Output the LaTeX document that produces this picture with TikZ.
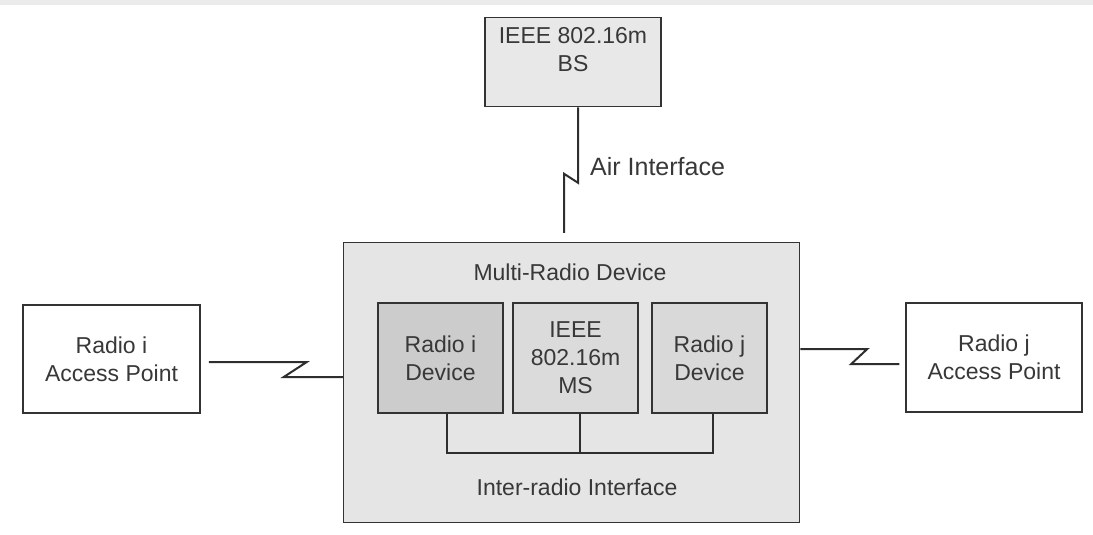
\documentclass[tikz,border=0pt]{standalone}
\usepackage{fontspec}
\setmainfont{Liberation Sans}
\begin{document}
\begin{tikzpicture}[x=1pt,y=-1pt,
  txt/.style={text=black!78, font=\fontsize{23}{28}\selectfont, align=center, inner sep=0pt},
  box/.style={draw=black!80, line width=1.5pt, inner sep=0pt, txt},
  wire/.style={draw=black!82, line width=2pt, line join=miter}
]
\useasboundingbox (0,0) rectangle (1093,535);
\fill[black!8] (0,0) rectangle (1093,5);
% outer boxes
\node[box, fill=black!9, minimum width=176pt, minimum height=89pt] (bs) at (573,62) {};
\node[txt] (bstxt) at (573,50) {IEEE 802.16m\\BS};
\node[box, fill=black!10, minimum width=456pt, minimum height=280pt] (mrd) at (571.5,382.5) {};
\node[txt] (mrdtxt) at (570,272) {Multi-Radio Device};
\node[txt] (irtxt) at (577,487) {Inter-radio Interface};
\node[box, fill=white, minimum width=177pt, minimum height=108pt] (api) at (111.5,359) {Radio i\\Access Point};
\node[box, fill=white, minimum width=176pt, minimum height=109pt] (apj) at (994,357.5) {Radio j\\Access Point};
% inner devices
\node[box, fill=black!20, minimum width=125pt, minimum height=110pt] (ri) at (440.5,358) {Radio i\\Device};
\node[box, fill=black!14, minimum width=125pt, minimum height=110pt] (ms) at (575.5,358) {IEEE\\802.16m\\MS};
\node[box, fill=black!15, minimum width=115pt, minimum height=110pt] (rj) at (709.5,358) {Radio j\\Device};
% inter-radio bus
\coordinate (busl) at (447,453);
\coordinate (busr) at (713,453);
\draw[wire, line width=1.5pt] ([xshift=6.5pt]ri.south) -- (busl) -- (busr) -- ([xshift=3.5pt]rj.south);
\draw[wire, line width=1.5pt] ([xshift=4.5pt]ms.south) -- ([xshift=4.5pt]ms.south |- busl);
% air interface
\coordinate (airend) at ([xshift=-7.5pt,yshift=9pt]mrd.north);
\draw[wire] ([xshift=5pt]bs.south) -- ++(0,75.5) -- ++(-14,-9) -- (airend);
\node[txt, font=\fontsize{25}{30}\selectfont, anchor=west] (air) at (590,167) {Air Interface};
% radio links
\draw[wire] ([xshift=8pt,yshift=-3pt]api.east) -- ++(98,0) -- ++(-23,15) -- (mrd.west |- 0,377);
\draw[wire] ([yshift=33.5pt]mrd.east) -- ++(67,0) -- ++(-16,15) -- ([xshift=-6pt,yshift=-6.5pt]apj.west);
\end{tikzpicture}
\end{document}
